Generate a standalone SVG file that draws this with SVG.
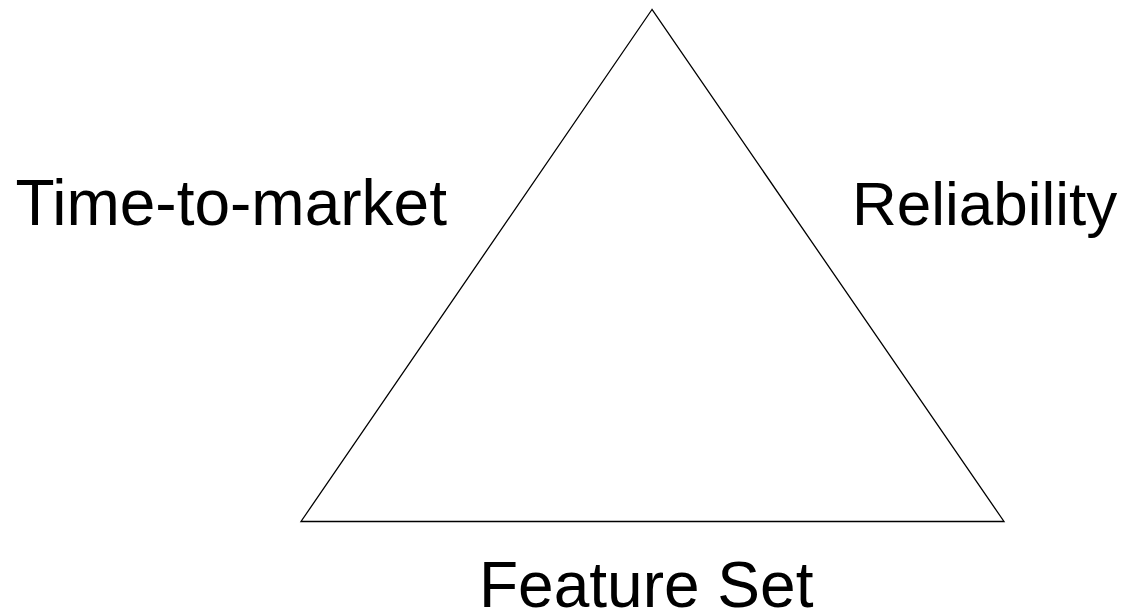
<svg xmlns="http://www.w3.org/2000/svg" width="1127" height="614" viewBox="0 0 1127 614">
<style>
.lbl{font-family:"Liberation Sans",Arial,sans-serif;font-size:64px;fill:#000}
.tri{fill:none;stroke:#000;stroke-width:1.3}
</style>
<rect width="1127" height="614" fill="#fff"/>
<g id="triangle">
<polygon class="tri" points="652,9.5 301,521.5 1004,521.5"/>
</g>
<g id="connectors"></g>
<g id="time-to-market"><text class="lbl" x="15.5" y="225">Time-to-market</text></g>
<g id="reliability"><text class="lbl" x="852" y="225" style="font-size:62px">Reliability</text></g>
<g id="feature-set"><text class="lbl" x="479" y="607">Feature Set</text></g>
</svg>
